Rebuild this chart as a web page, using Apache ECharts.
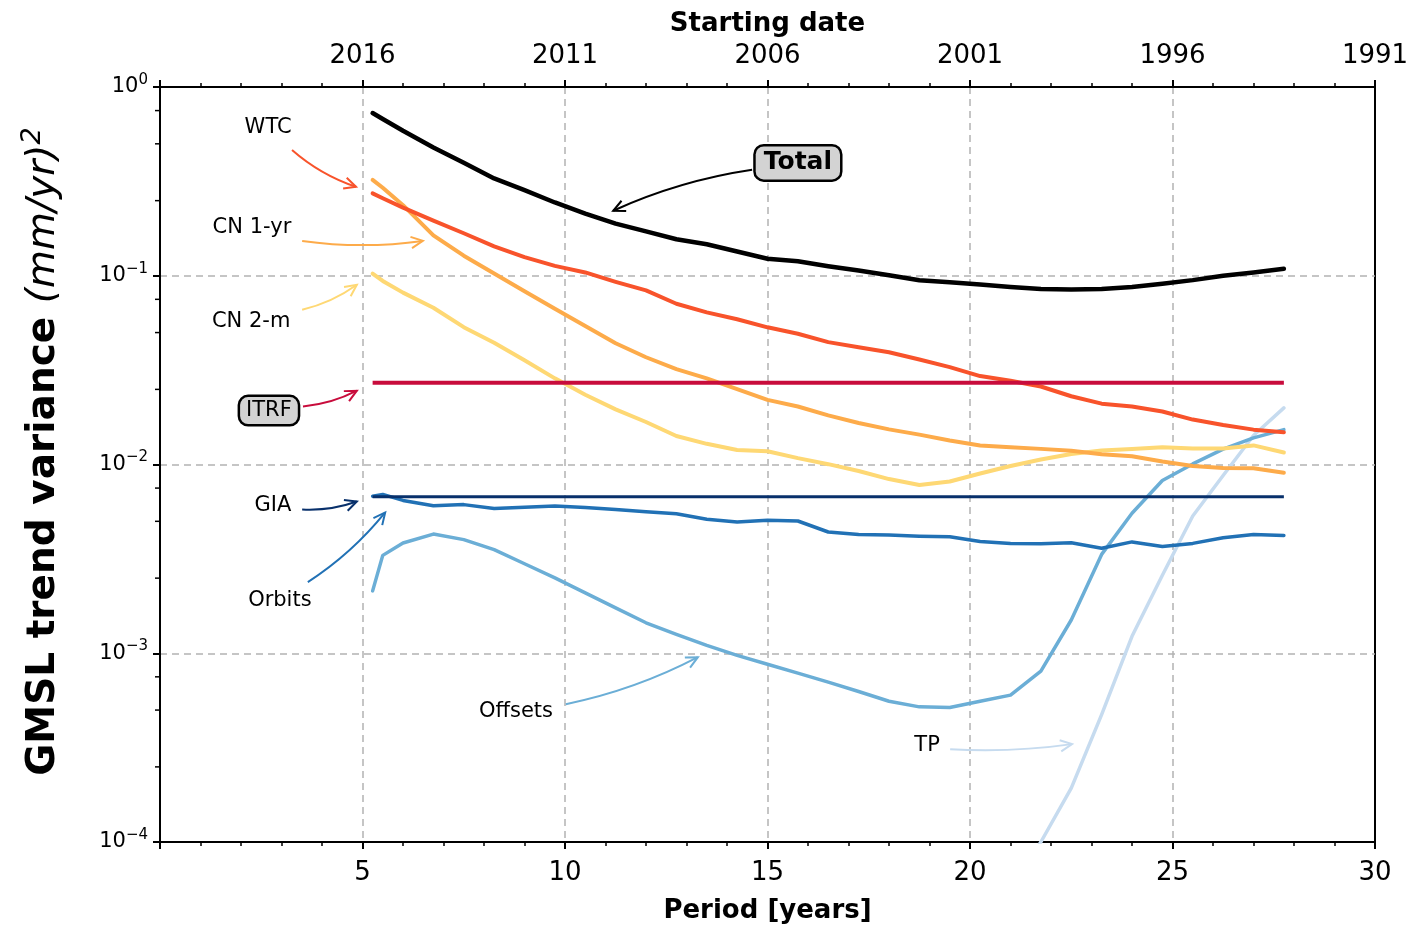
<!DOCTYPE html>
<html>
<head>
<meta charset="utf-8">
<script src="https://cdn.jsdelivr.net/npm/echarts@6/dist/echarts.min.js"></script>
<style>
  html, body { margin: 0; padding: 0; background: #fff; }
  #chart { width: 1424px; height: 925px; }
</style>
</head>
<body>
<div id="chart"></div>
<script>
// period of the trend fit [years]
const period = [5.25, 5.5, 6.0, 6.75, 7.5, 8.25, 9.0, 9.75, 10.5, 11.25, 12.0, 12.75, 13.5, 14.25, 15.0, 15.75,
  16.5, 17.25, 18.0, 18.75, 19.5, 20.25, 21.0, 21.75, 22.5, 23.25, 24.0, 24.75, 25.5, 26.25, 27.0, 27.75];

// trend variance (mm/yr)^2
const total = [0.728, 0.677, 0.586, 0.478, 0.397, 0.328, 0.284, 0.2445, 0.2136, 0.189, 0.1717, 0.156, 0.1468, 0.1345, 0.123, 0.1193,
  0.1124, 0.1066, 0.1005, 0.0946, 0.0923, 0.0898, 0.0871, 0.085, 0.0845, 0.0851, 0.0871, 0.0907, 0.0948, 0.1, 0.104, 0.1089];
const wtc = [0.273, 0.2574, 0.2296, 0.196, 0.168, 0.1432, 0.1254, 0.1128, 0.1041, 0.0929, 0.0836, 0.0711, 0.064, 0.0588, 0.0533, 0.0493,
  0.0445, 0.0418, 0.0393, 0.036, 0.0328, 0.0294, 0.0278, 0.0259, 0.023, 0.021, 0.0203, 0.0191, 0.0173, 0.0162, 0.0153, 0.0148];
const cn1yr = [0.322, 0.2925, 0.2366, 0.1636, 0.1277, 0.1028, 0.0828, 0.0668, 0.0541, 0.0439, 0.037, 0.032, 0.0286, 0.0251, 0.022, 0.0203,
  0.0182, 0.0166, 0.01535, 0.0144, 0.0134, 0.01262, 0.01233, 0.0121, 0.01184, 0.01134, 0.01106, 0.01037, 0.00983, 0.00958, 0.00955, 0.00904];
const cn2m = [0.1027, 0.0939, 0.0814, 0.0677, 0.0534, 0.0442, 0.0357, 0.0286, 0.0234, 0.0196, 0.0168, 0.01415, 0.01287, 0.01194, 0.01176, 0.01081,
  0.01004, 0.00924, 0.00837, 0.00779, 0.00813, 0.00896, 0.00982, 0.01063, 0.01137, 0.01186, 0.01208, 0.01236, 0.01216, 0.01216, 0.01262, 0.01157];
const itrfLevel = 0.0271;
const giaLevel = 0.00675;
const orbits = [0.0068, 0.00694, 0.00645, 0.00605, 0.00613, 0.00585, 0.00594, 0.00602, 0.00592, 0.00578, 0.00562, 0.00548, 0.00513, 0.00496, 0.00507, 0.00502,
  0.00439, 0.00426, 0.00423, 0.00417, 0.00414, 0.00391, 0.00382, 0.0038, 0.00385, 0.0036, 0.00389, 0.00368, 0.00382, 0.00409, 0.00426, 0.00421];
const offsets = [0.00214, 0.0033, 0.00384, 0.00428, 0.004, 0.00354, 0.00298, 0.00251, 0.00209, 0.00174, 0.00145, 0.00126, 0.0011, 0.000974, 0.000875, 0.000785,
  0.000703, 0.000627, 0.000557, 0.00052, 0.000516, 0.000557, 0.0006, 0.000805, 0.0015, 0.00334, 0.00552, 0.00823, 0.01007, 0.01206, 0.01384, 0.01531];
const tp = [null, null, null, null, null, null, null, null, null, null, null, null, null, null, null, null,
  null, null, null, null, null, null, 0.000057, 0.0001, 0.000193, 0.000473, 0.00123, 0.00259, 0.00534, 0.00875, 0.01424, 0.01995];

// tick labels
const periodLabels = ['', '5', '10', '15', '20', '25', '30'];
const dateLabels = ['', '2016', '2011', '2006', '2001', '1996', '1991'];

const FONT = '"DejaVu Sans", sans-serif';
const C = {
  total: '#000000', wtc: '#f8532b', cn1: '#fdab4a', cn2: '#fed874', itrf: '#c80c3c',
  gia: '#08306b', orbits: '#2171b5', offsets: '#6baed6', tp: '#c6dbef'
};

// minor ticks of the log axis at 2.5, 5, 7.5 per decade
const yMinor = [];
for (let e = -4; e <= -1; e++) [2.5, 5, 7.5].forEach(m => yMinor.push(m * Math.pow(10, e)));

function line(name, values, color, width, z) {
  return {
    name: name, type: 'line', z: z,
    data: period.map((p, i) => [p, values[i]]),
    symbol: 'none', showSymbol: false, connectNulls: false,
    lineStyle: { color: color, width: width, cap: 'round', join: 'round' },
    itemStyle: { color: color }
  };
}
function flat(name, level, color, width, z) {
  return {
    name: name, type: 'line', z: z,
    data: [[period[0], level], [period[period.length - 1], level]],
    symbol: 'none', showSymbol: false,
    lineStyle: { color: color, width: width },
    itemStyle: { color: color }
  };
}

const axisBlack = { show: true, lineStyle: { color: '#000', width: 2 } };
const dashed = { show: true, showMinLine: false, showMaxLine: false, lineStyle: { color: '#b3b3b3', width: 1.5, type: [7, 5] } };

let myChart = echarts.init(document.getElementById('chart'));
let option = {
  animation: false,
  backgroundColor: '#fff',
  grid: {
    left: 160, right: 49, top: 87, bottom: 83, outerBoundsMode: 'none', containLabel: false,
    show: true, borderColor: '#000', borderWidth: 2, backgroundColor: 'transparent'
  },
  xAxis: [
    {
      type: 'value', position: 'bottom', min: 0, max: 30, interval: 5,
      name: 'Period [years]', nameLocation: 'middle', nameGap: 56,
      nameTextStyle: { fontFamily: FONT, fontWeight: 'bold', fontSize: 26, color: '#000' },
      axisLine: axisBlack,
      axisTick: { show: true, length: 7, lineStyle: { color: '#000', width: 2 } },
      minorTick: { show: true, splitNumber: 5, length: 4, lineStyle: { color: '#000', width: 1.5 } },
      axisLabel: { fontFamily: FONT, fontSize: 26, color: '#000', margin: 18, formatter: v => periodLabels[Math.round(v / 5)] },
      splitLine: dashed
    },
    {
      type: 'value', position: 'top', min: 0, max: 30, interval: 5,
      name: 'Starting date', nameLocation: 'middle', nameGap: 50,
      nameTextStyle: { fontFamily: FONT, fontWeight: 'bold', fontSize: 26, color: '#000' },
      axisLine: axisBlack,
      axisTick: { show: true, length: 7, lineStyle: { color: '#000', width: 2 } },
      minorTick: { show: true, splitNumber: 5, length: 4, lineStyle: { color: '#000', width: 1.5 } },
      axisLabel: { fontFamily: FONT, fontSize: 26, color: '#000', margin: 18, formatter: v => dateLabels[Math.round(v / 5)] },
      splitLine: { show: false }
    }
  ],
  yAxis: {
    type: 'log', logBase: 10, min: 0.0001, max: 1, splitNumber: 4,
    name: '{b|GMSL trend variance }{i|(mm/yr)}{s|2}',
    nameLocation: 'middle', nameRotate: 90, nameGap: 92,
    nameTextStyle: {
      padding: [0, 0, 0, 26],
      rich: {
        b: { fontFamily: FONT, fontWeight: 'bold', fontSize: 39, color: '#000' },
        i: { fontFamily: FONT, fontStyle: 'italic', fontSize: 39, color: '#000' },
        s: { fontFamily: FONT, fontStyle: 'italic', fontSize: 27, color: '#000', padding: [0, 0, 22, 0] }
      }
    },
    axisLine: axisBlack,
    axisTick: { show: true, length: 7, lineStyle: { color: '#000', width: 2 } },
    axisLabel: {
      margin: 12,
      formatter: function (v) {
        const e = Math.round(Math.log10(v));
        return '{b|10}{s|' + (e < 0 ? '\u2212' + (-e) : e) + '}';
      },
      rich: {
        b: { fontFamily: FONT, fontSize: 21, color: '#000' },
        s: { fontFamily: FONT, fontSize: 15, color: '#000', padding: [0, 0, 14, 0] }
      }
    },
    splitLine: dashed
  },
  series: [
    line('TP', tp, C.tp, 3.5, 2),
    line('Offsets', offsets, C.offsets, 3.5, 3),
    line('Orbits', orbits, C.orbits, 3.5, 4),
    flat('GIA', giaLevel, C.gia, 3, 5),
    line('CN 2-m', cn2m, C.cn2, 4, 6),
    line('CN 1-yr', cn1yr, C.cn1, 4, 7),
    line('WTC', wtc, C.wtc, 4, 8),
    flat('ITRF', itrfLevel, C.itrf, 4, 9),
    line('Total', total, C.total, 4.5, 10),
    {
      type: 'custom', silent: true, clip: false, z: 20,
      data: yMinor.map(v => [0, v]),
      renderItem: function (params, api) {
        const p = api.coord([api.value(0), api.value(1)]);
        return { type: 'line', shape: { x1: p[0] - 5, y1: p[1], x2: p[0], y2: p[1] }, style: { stroke: '#000', lineWidth: 1.5 } };
      }
    }
  ]
};
myChart.setOption(option);

// annotations: label position, arrow start, arrow tip (data coordinates)
const notes = [
  { text: 'WTC', color: C.wtc, at: [2.67, 0.607], from: [3.26, 0.464], to: [4.84, 0.296], rad: 0.1 },
  { text: 'CN 1-yr', color: C.cn1, at: [2.27, 0.1795], from: [3.51, 0.153], to: [6.49, 0.153], rad: 0.07 },
  { text: 'CN 2-m', color: C.cn2, at: [2.25, 0.0571], from: [3.51, 0.0661], to: [4.86, 0.0896], rad: 0.1 },
  { text: 'ITRF', color: C.itrf, at: [2.69, 0.0193], from: [3.53, 0.0203], to: [4.86, 0.0246], rad: 0.1, box: true },
  { text: 'GIA', color: C.gia, at: [2.79, 0.00607], from: [3.51, 0.00578], to: [4.86, 0.00637], rad: 0.1 },
  { text: 'Orbits', color: C.orbits, at: [2.96, 0.00191], from: [3.65, 0.00238], to: [5.56, 0.00557], rad: 0.08 },
  { text: 'Offsets', color: C.offsets, at: [8.79, 0.000493], from: [10.02, 0.000537], to: [13.28, 0.000953], rad: 0.07 },
  { text: 'TP', color: C.tp, at: [18.94, 0.000326], from: [19.51, 0.00031], to: [22.52, 0.00033], rad: 0.05 },
  { text: 'Total', color: C.total, at: [15.75, 0.396], from: [14.62, 0.364], to: [11.19, 0.221], rad: 0.07, box: true, bold: true }
];

function px(p) { return myChart.convertToPixel({ xAxisIndex: 0, yAxisIndex: 0 }, p); }

const graphics = [];
notes.forEach(function (n) {
  const t = px(n.at), a = px(n.from), b = px(n.to);
  const dx = b[0] - a[0], dy = b[1] - a[1];
  const cx = (a[0] + b[0]) / 2 - n.rad * dy, cy = (a[1] + b[1]) / 2 + n.rad * dx;
  graphics.push({
    type: 'bezierCurve', z: 50,
    shape: { x1: a[0], y1: a[1], x2: b[0], y2: b[1], cpx1: cx, cpy1: cy },
    style: { stroke: n.color, lineWidth: 2, fill: null }
  });
  const ang = Math.atan2(b[1] - cy, b[0] - cx), L = 13, w = 0.45;
  graphics.push({
    type: 'polyline', z: 50,
    shape: { points: [[b[0] - L * Math.cos(ang - w), b[1] - L * Math.sin(ang - w)], [b[0], b[1]],
      [b[0] - L * Math.cos(ang + w), b[1] - L * Math.sin(ang + w)]] },
    style: { stroke: n.color, lineWidth: 2, fill: null }
  });
  const st = {
    text: n.text, fontFamily: FONT, fontSize: n.bold ? 25 : 21, fontWeight: n.bold ? 'bold' : 'normal',
    fill: '#000', align: 'center', verticalAlign: 'middle'
  };
  if (n.box) {
    st.backgroundColor = '#d3d3d3';
    st.borderColor = '#000';
    st.borderWidth = 2.5;
    st.borderRadius = 8;
    st.padding = n.bold ? [4, 8, 4, 8] : [3, 6, 3, 6];
  }
  graphics.push({ type: 'text', z: 60, x: t[0], y: t[1], style: st });
});
myChart.setOption({ graphic: graphics });
</script>
</body>
</html>
